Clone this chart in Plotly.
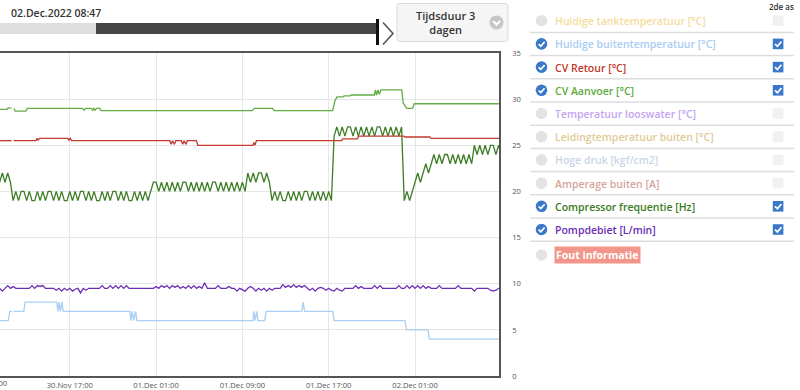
import plotly.graph_objects as go
import pandas as pd

# ---------------- DATA ----------------
buiten_t = ["2022-11-30 10:32", "2022-11-30 11:18", "2022-11-30 11:26", "2022-11-30 11:38", "2022-11-30 11:42",
            "2022-11-30 11:48", "2022-11-30 12:44", "2022-11-30 12:52", "2022-11-30 15:48", "2022-11-30 15:54",
            "2022-11-30 16:00", "2022-11-30 16:08", "2022-11-30 16:16", "2022-11-30 16:24", "2022-11-30 22:34",
            "2022-11-30 22:40", "2022-11-30 22:48", "2022-11-30 22:56", "2022-11-30 23:06", "2022-11-30 23:14",
            "2022-12-01 09:58", "2022-12-01 10:04", "2022-12-01 10:10", "2022-12-01 10:20", "2022-12-01 10:26",
            "2022-12-01 11:04", "2022-12-01 11:12", "2022-12-01 14:30", "2022-12-01 14:38", "2022-12-01 14:46",
            "2022-12-01 17:22", "2022-12-01 17:30", "2022-12-02 00:04", "2022-12-02 00:12", "2022-12-02 02:12",
            "2022-12-02 02:20", "2022-12-02 08:47"]
buiten_v = [6, 6, 7, 7, None,
            7, 7, 8, 8, 7,
            8, 7, 8, 7, 7,
            6, 7, 6, 7, 6,
            6, 7, 6, 7, 6,
            6, 7, 7, 8, 7,
            7, 6, 6, 5, 5,
            4, 4]

aanvoer_t = ["2022-11-30 10:32", "2022-11-30 11:10", "2022-11-30 11:18", "2022-11-30 11:36", "2022-11-30 11:42",
             "2022-11-30 11:50", "2022-11-30 11:56", "2022-11-30 12:56", "2022-11-30 13:04", "2022-11-30 18:12",
             "2022-11-30 18:20", "2022-11-30 18:28", "2022-11-30 19:00", "2022-11-30 19:08", "2022-11-30 19:14",
             "2022-11-30 19:20", "2022-11-30 19:28", "2022-11-30 19:46", "2022-11-30 19:54", "2022-12-01 09:54",
             "2022-12-01 10:06", "2022-12-01 11:48", "2022-12-01 11:56", "2022-12-01 17:22", "2022-12-01 17:34",
             "2022-12-01 17:46", "2022-12-01 18:20", "2022-12-01 18:26", "2022-12-01 18:58", "2022-12-01 19:04",
             "2022-12-01 21:14", "2022-12-01 21:20", "2022-12-01 21:26", "2022-12-01 21:34", "2022-12-01 21:42",
             "2022-12-01 21:50", "2022-12-01 23:46", "2022-12-01 23:54", "2022-12-02 00:04", "2022-12-02 00:14",
             "2022-12-02 00:46", "2022-12-02 00:56", "2022-12-02 08:47"]
aanvoer_v = [28.9, 28.9, 29.05, 29.05, None,
             29.0, 28.7, 28.7, 29.0, 29.0,
             28.8, 29.0, 29.0, 28.8, 29.0,
             28.8, 29.0, 29.0, 28.75, 28.75,
             29.0, 29.0, 28.75, 28.75, 29.8,
             30.25, 30.25, 30.35, 30.35, 30.45,
             30.45, 31.0, 30.45, 31.0, 30.5,
             31.0, 31.0, 29.6, 29.3, 29.0,
             29.0, 29.5, 29.5]

retour_t = ["2022-11-30 10:32", "2022-11-30 11:36", "2022-11-30 11:42", "2022-11-30 11:48", "2022-11-30 13:52",
            "2022-11-30 13:58", "2022-11-30 14:04", "2022-11-30 14:12", "2022-11-30 16:50", "2022-11-30 16:56",
            "2022-11-30 17:02", "2022-11-30 17:10", "2022-12-01 02:16", "2022-12-01 02:24", "2022-12-01 02:32",
            "2022-12-01 02:42", "2022-12-01 02:50", "2022-12-01 03:20", "2022-12-01 03:28", "2022-12-01 03:36",
            "2022-12-01 03:46", "2022-12-01 03:54", "2022-12-01 04:44", "2022-12-01 04:52", "2022-12-01 09:58",
            "2022-12-01 10:04", "2022-12-01 10:10", "2022-12-01 10:18", "2022-12-01 18:12", "2022-12-01 18:18",
            "2022-12-01 19:40", "2022-12-01 19:46", "2022-12-01 23:58", "2022-12-02 00:04", "2022-12-02 02:22",
            "2022-12-02 02:30", "2022-12-02 08:47"]
retour_v = [25.5, 25.5, None, 25.5, 25.5,
            25.75, 25.55, 25.75, 25.75, 25.55,
            25.75, 25.5, 25.5, 25.1, 25.5,
            25.1, 25.5, 25.5, 25.1, 25.5,
            25.1, 25.5, 25.5, 25.0, 25.0,
            25.3, 25.0, 25.5, 25.5, 25.7,
            25.7, 26.0, 26.0, 25.9, 25.9,
            25.75, 25.75]

# Compressor frequentie, sampled every 15 minutes from 30.Nov 10:30
compressor_start = "2022-11-30 10:30"
compressor_v = [
    21, 22, 21, 22, 21,
    19, 20, 19, 20, 20, 19, 20, 19, 19, 20, 19, 20, 19, 20, 20, 19, 20, 19, 20, 19,
    19, 20, 19, 20, 19, 20, 20, 19, 20, 19, 20, 19, 19, 20, 19, 20, 19, 20, 20, 19,
    20, 19, 20, 19, 19, 20, 19, 20, 19, 20, 19,
    20, 21, 21, 20, 21, 20, 21, 20, 21, 20, 21, 20, 21, 21, 20, 21, 20, 21, 20, 21,
    20, 21, 20, 21, 21, 20, 21, 20, 21, 20, 21, 20, 21, 20, 21, 20,
    22, 21, 22, 21, 22, 22, 21, 22, 21,
    19, 20, 19, 20, 19, 19, 20, 19, 20, 19, 20, 19, 20, 20, 19, 20, 19, 20, 19, 20,
    19, 20, 19,
    26, 27, 26, 27, 26, 27, 27, 26, 27, 26, 27, 26, 27, 26, 27, 26, 27, 27, 26, 27,
    26, 27, 26, 27, 26, 27,
    19, 20, 19, 20,
    21, 22, 21, 22, 23, 22, 23,
    24, 23, 24, 23, 24, 24, 23, 24, 23, 24, 23, 24, 23, 24, 23,
    25, 24, 25, 24, 25, 24, 25, 25, 24, 25, 24,
]

# Pompdebiet, sampled every 15 minutes from 30.Nov 10:30
pomp_start = "2022-11-30 10:30"
pomp_v = [
    9.5, 9.2, 9.5, 9.8, 9.5, 9.7, 9.5, 9.5, 9.5, 9.5,
    9.5, 9.5, 9.8, 9.5, 9.8, 9.7, 9.8, 9.5, 9.5, 9.5,
    9.5, 9.3, 9.5, 9.2, 9.5, 9.3, 9.5, 9.2, 9.4, 9.5,
    9.0, 9.5, 9.3, 9.5, 9.5, 9.5, 9.5, 9.5, 9.8, 9.5,
    9.5, 9.8, 9.5, 9.8, 9.5, 9.8, 9.5, 9.8, 9.5, 9.5,
    9.5, 9.5, 9.5, 9.5, 9.5, 9.5, 9.5, 9.5, 9.7, 9.5,
    9.8, 9.6, 9.8, 9.5, 9.8, 9.6, 9.8, 9.5, 9.7, 9.5,
    9.8, 9.5, 9.8, 9.5, 9.7, 9.5, 10.1, 9.5, 9.5, 9.5,
    9.5, 9.8, 9.5, 9.5, 9.5, 9.7, 9.5, 9.5, 9.2, 9.5,
    9.3, 9.2, 9.5, 9.7, 9.5, 9.2, 9.5, 9.3, 9.5, 9.2,
    9.5, 9.3, 9.5, 9.5, 9.5, 9.9, 9.6, 9.8, 9.6, 9.9,
    9.6, 9.8, 9.6, 9.8, 9.5, 9.3, 9.5, 9.2, 9.5, 9.6,
    9.5, 9.3, 9.5, 9.3, 9.2, 9.5, 9.3, 9.2, 9.5, 9.5,
    9.5, 9.5, 9.8, 9.5, 9.7, 9.5, 9.5, 9.5, 9.5, 9.8,
    9.5, 9.8, 9.5, 9.5, 9.5, 9.5, 9.5, 9.5, 9.8, 9.5,
    9.5, 9.8, 9.5, 9.8, 9.5, 9.8, 9.5, 9.8, 9.5, 9.7,
    9.5, 9.5, 9.5, 9.8, 9.5, 9.5, 9.5, 9.5, 9.5, 9.5,
    9.8, 9.5, 9.5, 9.5, 9.5, 9.5, 9.2, 9.5, 9.5, 9.5,
    9.5, 9.5, 9.3, 9.2, 9.3, 9.5, 9.5,
]

x_range = ["2022-11-30 10:32", "2022-12-02 08:47"]
tick_vals = ["2022-11-30 17:00", "2022-12-01 01:00", "2022-12-01 09:00", "2022-12-01 17:00", "2022-12-02 01:00"]
tick_text = ["30.Nov 17:00", "01.Dec 01:00", "01.Dec 09:00", "01.Dec 17:00", "02.Dec 01:00"]
cut_tick_text = "30.Nov 09:00"

legend_labels = ["Huidige tanktemperatuur [°C]", "Huidige buitentemperatuur [°C]", "CV Retour [°C]",
                 "CV Aanvoer [°C]", "Temperatuur looswater [°C]", "Leidingtemperatuur buiten [°C]",
                 "Hoge druk [kgf/cm2]", "Amperage buiten [A]", "Compressor frequentie [Hz]",
                 "Pompdebiet [L/min]", "Fout informatie"]
legend_colors = ["#f3dc9e", "#a9cdf3", "#c0392b", "#5dab3d", "#c4a4f2", "#e0cb96",
                 "#c9d5e6", "#d6a49d", "#3a7a22", "#6a2db5", "#ffffff"]
legend_checked = [False, True, True, True, False, False, False, False, True, True, False]
has_checkbox = [True] * 10 + [False]

date_label = "02.Dec.2022 08:47"
duration_text = "Tijdsduur 3<br>dagen"
second_axis_label = "2de as"

# ---------------- FIGURE ----------------
W, H = 800, 390
PL, PR, PT, PB = 0, 499, 53, 376
TICK_FONT = 7.6


def fx(x):
    return (x - PL) / (PR - PL)


def fy(y):
    return (PB - y) / (PB - PT)


comp_t = pd.date_range(compressor_start, periods=len(compressor_v), freq="15min")
pomp_t = pd.date_range(pomp_start, periods=len(pomp_v), freq="15min")

fig = go.Figure()
fig.add_trace(go.Scatter(x=buiten_t, y=buiten_v, mode="lines", line=dict(color="#a9cff3", width=1.3),
                         connectgaps=False, hoverinfo="skip"))
fig.add_trace(go.Scatter(x=pomp_t, y=pomp_v, mode="lines", line=dict(color="#6a2db5", width=1.3),
                         hoverinfo="skip"))
fig.add_trace(go.Scatter(x=comp_t, y=compressor_v, mode="lines", line=dict(color="#3d7d25", width=1.3),
                         hoverinfo="skip"))
fig.add_trace(go.Scatter(x=retour_t, y=retour_v, mode="lines", line=dict(color="#c23a30", width=1.3),
                         connectgaps=False, hoverinfo="skip"))
fig.add_trace(go.Scatter(x=aanvoer_t, y=aanvoer_v, mode="lines", line=dict(color="#62ad45", width=1.3),
                         connectgaps=False, hoverinfo="skip"))

shapes = []
annotations = []


def line_px(x0, y0, x1, y1, color, width):
    shapes.append(dict(type="line", xref="paper", yref="paper", x0=fx(x0), y0=fy(y0), x1=fx(x1), y1=fy(y1),
                       line=dict(color=color, width=width), layer="above"))


def rect_px(x0, y0, x1, y1, fill, lc=None, lw=0):
    shapes.append(dict(type="rect", xref="paper", yref="paper", x0=fx(x0), y0=fy(y1), x1=fx(x1), y1=fy(y0),
                       fillcolor=fill, line=dict(color=lc or fill, width=lw), layer="above"))


def circle_px(cx, cy, r, fill):
    shapes.append(dict(type="circle", xref="paper", yref="paper", x0=fx(cx - r), y0=fy(cy + r),
                       x1=fx(cx + r), y1=fy(cy - r), fillcolor=fill, line=dict(width=0), layer="above"))


def path_px(pts, color, width):
    d = "M" + " L".join(f"{fx(x):.5f},{fy(y):.5f}" for x, y in pts)
    shapes.append(dict(type="path", xref="paper", yref="paper", path=d,
                       line=dict(color=color, width=width), layer="above"))


def rounded_rect_px(x0, y0, x1, y1, r, fill, lc, lw):
    def p(x, y):
        return f"{fx(x):.5f},{fy(y):.5f}"
    d = (f"M{p(x0 + r, y0)} L{p(x1 - r, y0)} Q{p(x1, y0)} {p(x1, y0 + r)} L{p(x1, y1 - r)} "
         f"Q{p(x1, y1)} {p(x1 - r, y1)} L{p(x0 + r, y1)} Q{p(x0, y1)} {p(x0, y1 - r)} "
         f"L{p(x0, y0 + r)} Q{p(x0, y0)} {p(x0 + r, y0)} Z")
    shapes.append(dict(type="path", xref="paper", yref="paper", path=d, fillcolor=fill,
                       line=dict(color=lc, width=lw), layer="above"))


def text_px(x, y, text, size, color, weight=600, xanchor="left", bg=None, family="Open Sans"):
    a = dict(xref="paper", yref="paper", x=fx(x), y=fy(y), text=text, showarrow=False,
             xanchor=xanchor, yanchor="middle",
             font=dict(family=family, size=size, color=color, weight=weight))
    if bg:
        a["bgcolor"] = bg
        a["borderpad"] = 1
    annotations.append(a)


# top bar
text_px(9, 12.5, date_label, 10.5, "#333", 600)
rect_px(0, 23, 96, 34, "#dedede")
rect_px(96, 23, 377, 34, "#464646")
line_px(377.5, 19, 377.5, 45, "#111", 3)
path_px([(383, 22.5), (393, 33.5), (383, 44.5)], "#555", 1.6)
rounded_rect_px(397, 3.5, 508, 41.5, 3, "#f5f5f5", "#dadada", 1)
text_px(445, 22.5, duration_text, 11, "#333", 600, "center")
circle_px(496.5, 22.5, 7, "#c6c6c6")
path_px([(493, 21), (496.5, 24.5), (500, 21)], "#ffffff", 2)

# right panel
text_px(781, 6, second_axis_label, 8, "#333", 600, "center")
for i, (lab, col, chk, hb) in enumerate(zip(legend_labels, legend_colors, legend_checked, has_checkbox)):
    cy = 20.7 + 23.2 * i if i < 10 else 255
    if i < 10:
        line_px(530, cy + 11.7, 794, cy + 11.7, "#dddddd", 1.5)
    if chk:
        circle_px(541.5, cy, 5.8, "#3a78c9")
        path_px([(538.6, cy + 0.2), (540.8, cy + 2.3), (544.6, cy - 2.0)], "#ffffff", 1.7)
    else:
        circle_px(541.5, cy, 5.8, "#e3e3e3")
    if hb:
        if chk:
            rect_px(772.8, cy - 5.3, 783.4, cy + 5.3, "#3a78c9")
            path_px([(775.0, cy + 0.1), (777.4, cy + 2.4), (781.4, cy - 2.3)], "#ffffff", 1.7)
        else:
            rect_px(772.8, cy - 5.3, 783.4, cy + 5.3, "#f1f1f1")
    if lab == "Fout informatie":
        text_px(554, cy, lab, 10.5, "#ffffff", 700, bg="#f2958a")
    else:
        text_px(553, cy + 0.5, lab, 10.5, col, 600)

# cut-off first x tick label
annotations.append(dict(xref="paper", yref="paper", x=fx(-16.3), y=fy(382.5), text=cut_tick_text,
                        showarrow=False, xanchor="center", yanchor="middle",
                        font=dict(family="Open Sans", size=TICK_FONT, color="#555")))

fig.update_layout(
    width=W, height=H,
    margin=dict(l=PL, r=W - PR, t=PT, b=H - PB, pad=0),
    paper_bgcolor="white", plot_bgcolor="white",
    showlegend=False,
    shapes=shapes, annotations=annotations,
    font=dict(family="Open Sans", size=TICK_FONT, color="#555"),
    xaxis=dict(type="date", range=x_range, tickmode="array", tickvals=tick_vals, ticktext=tick_text,
               showgrid=True, gridcolor="#e6e6e6", gridwidth=1, zeroline=False,
               showline=True, mirror=True, linecolor="#555", linewidth=1.5,
               ticks="outside", ticklen=1, tickcolor="rgba(0,0,0,0)",
               tickfont=dict(size=TICK_FONT, color="#555")),
    yaxis=dict(side="right", range=[0, 35], tickmode="array", tickvals=[0, 5, 10, 15, 20, 25, 30, 35],
               showgrid=True, gridcolor="#e6e6e6", gridwidth=1, zeroline=False,
               showline=True, linecolor="#555", linewidth=1.5,
               ticks="outside", ticklen=10, tickcolor="rgba(0,0,0,0)",
               tickfont=dict(size=TICK_FONT, color="#555")),
)

fig.write_html("out.html", config={"displayModeBar": False},
               post_script="document.body.style.margin='0';document.body.style.overflow='hidden';")
